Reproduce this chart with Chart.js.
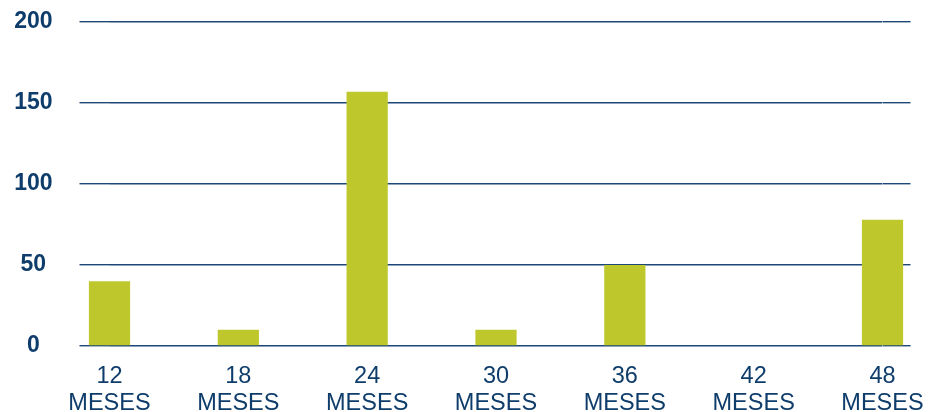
<!DOCTYPE html>
<html>
<head>
<meta charset="utf-8">
<script src="https://cdn.jsdelivr.net/npm/chart.js@4"></script>
<style>
  html, body { margin: 0; padding: 0; background: #ffffff; }
  #wrap { width: 928px; height: 412px; position: relative; }
</style>
</head>
<body>
<div id="wrap"><canvas id="c"></canvas></div>
<script>
const categories = ['12', '18', '24', '30', '36', '42', '48'];
const unitLabel = 'MESES';
const values = [40, 10, 157, 10, 50, 0, 78];
const yTicks = [0, 50, 100, 150, 200];

const navy = '#0f3d6b';
const gridColor = '#1d4777';
const barColor = '#bec82d';
const fontFamily = "'Liberation Sans', Arial, sans-serif";

new Chart(document.getElementById('c'), {
  type: 'bar',
  data: {
    labels: categories.map(c => [c, unitLabel]),
    datasets: [{
      data: values,
      backgroundColor: barColor,
      borderWidth: 0,
      categoryPercentage: 1,
      barPercentage: 0.32,
      clip: false
    }]
  },
  options: {
    responsive: true,
    maintainAspectRatio: false,
    animation: false,
    layout: { padding: { top: 22, right: 17.5, bottom: 0, left: 14 } },
    plugins: { legend: { display: false }, tooltip: { enabled: false } },
    scales: {
      x: {
        offset: false,
        grid: { display: false, drawTicks: false },
        border: { display: false },
        ticks: {
          color: navy,
          padding: 17,
          maxRotation: 0,
          autoSkip: false,
          font: { family: fontFamily, size: 23.5, lineHeight: 1.15 }
        },
        afterFit: s => { s.height = 66; s.paddingLeft = 0; s.paddingRight = 0; }
      },
      y: {
        position: 'left',
        min: yTicks[0],
        max: yTicks[yTicks.length - 1],
        afterBuildTicks: s => { s.ticks = yTicks.map(v => ({ value: v })); },
        grid: { color: gridColor, lineWidth: 1.4, drawTicks: true, tickLength: 30 },
        border: { display: false },
        ticks: {
          color: navy,
          padding: 27,
          crossAlign: 'center',
          font: { family: fontFamily, size: 23, weight: 'bold' }
        },
        afterFit: s => { s.width = 95.5; s.paddingTop = 0; s.paddingBottom = 0; }
      },
      y2: {
        position: 'right',
        min: yTicks[0],
        max: yTicks[yTicks.length - 1],
        afterBuildTicks: s => { s.ticks = yTicks.map(v => ({ value: v })); },
        grid: { color: gridColor, lineWidth: 1.4, drawOnChartArea: false, drawTicks: true, tickLength: 28 },
        border: { display: false },
        ticks: { display: false },
        afterFit: s => { s.width = 28; s.paddingTop = 0; s.paddingBottom = 0; }
      }
    }
  }
});
</script>
</body>
</html>
